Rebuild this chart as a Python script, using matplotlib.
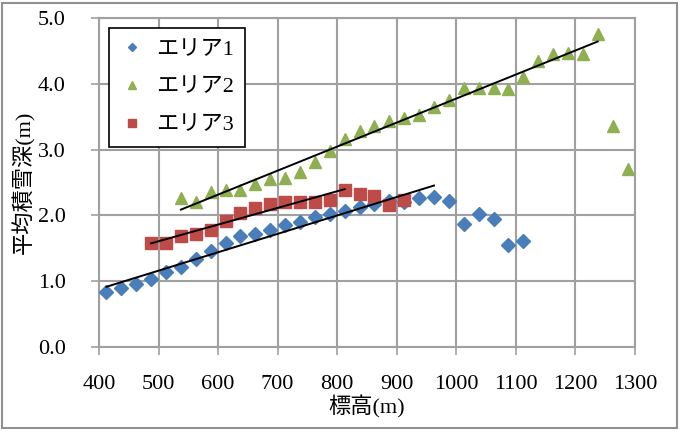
import numpy as np
import matplotlib
matplotlib.use('agg')
import matplotlib.pyplot as plt
from matplotlib.patches import Rectangle

# elevation bins (m) and mean snow depth (m)
area1_x = [412.5, 437.5, 462.5, 487.5, 512.5, 537.5, 562.5, 587.5, 612.5, 637.5,
           662.5, 687.5, 712.5, 737.5, 762.5, 787.5, 812.5, 837.5, 862.5, 887.5,
           912.5, 937.5, 962.5, 987.5, 1012.5, 1037.5, 1062.5, 1087.5, 1112.5]
area1_y = [0.84, 0.89, 0.96, 1.03, 1.14, 1.22, 1.34, 1.46, 1.58, 1.69,
           1.72, 1.78, 1.85, 1.90, 1.97, 2.02, 2.07, 2.13, 2.18, 2.22,
           2.21, 2.27, 2.28, 2.22, 1.87, 2.02, 1.94, 1.55, 1.61]

area2_x = [537.5, 562.5, 587.5, 612.5, 637.5, 662.5, 687.5, 712.5, 737.5, 762.5,
           787.5, 812.5, 837.5, 862.5, 887.5, 912.5, 937.5, 962.5, 987.5, 1012.5,
           1037.5, 1062.5, 1087.5, 1112.5, 1137.5, 1162.5, 1187.5, 1212.5, 1237.5,
           1262.5, 1287.5]
area2_y = [2.27, 2.21, 2.35, 2.38, 2.39, 2.48, 2.55, 2.57, 2.66, 2.81,
           2.98, 3.16, 3.29, 3.36, 3.43, 3.48, 3.52, 3.65, 3.75, 3.93,
           3.93, 3.94, 3.92, 4.11, 4.34, 4.45, 4.47, 4.46, 4.75,
           3.36, 2.70]

area3_x = [487.5, 512.5, 537.5, 562.5, 587.5, 612.5, 637.5, 662.5, 687.5, 712.5,
           737.5, 762.5, 787.5, 812.5, 837.5, 862.5, 887.5, 912.5]
area3_y = [1.58, 1.58, 1.68, 1.71, 1.78, 1.92, 2.04, 2.12, 2.18, 2.20,
           2.20, 2.21, 2.24, 2.38, 2.33, 2.30, 2.16, 2.24]

# upper elevation used for each linear trend
fit_max = {'area1': 962.5, 'area2': 1237.5, 'area3': 812.5}

labels = ['エリア1', 'エリア2', 'エリア3']
xticks = [400, 500, 600, 700, 800, 900, 1000, 1100, 1200, 1300]
yticks = [0.0, 1.0, 2.0, 3.0, 4.0, 5.0]

plt.rcParams['font.family'] = ['Liberation Serif', 'Noto Sans CJK JP']
plt.rcParams['font.size'] = 16

fig = plt.figure(figsize=(6.89, 4.42), dpi=100)
ax = fig.add_axes([0.1437, 0.2149, 0.9216 - 0.1437, 0.9593 - 0.2149])

grey = '#a0a0a0'
ax.plot(area1_x, area1_y, ls='none', marker='D', ms=7, color='#4a7ebb', label=labels[0], zorder=3)
ax.plot(area2_x, area2_y, ls='none', marker='^', ms=9, color='#8eb050', label=labels[1], zorder=3)
ax.plot(area3_x, area3_y, ls='none', marker='s', ms=9, color='#be4b48', label=labels[2], zorder=3)

# linear trends
for xs, ys, key in [(area1_x, area1_y, 'area1'), (area2_x, area2_y, 'area2'), (area3_x, area3_y, 'area3')]:
    xs = np.array(xs)
    ys = np.array(ys)
    m = xs <= fit_max[key]
    p = np.polyfit(xs[m], ys[m], 1)
    xx = np.array([xs[m][0], xs[m][-1]])
    ax.plot(xx, np.polyval(p, xx), color='k', lw=1.4, zorder=4)

ax.set_xlim(400, 1300)
ax.set_ylim(0, 5)
ax.set_xticks(xticks)
ax.set_yticks(yticks)
ax.set_yticklabels(['%.1f' % v for v in yticks])
ax.grid(True, color=grey, lw=1.5)
ax.set_axisbelow(True)
for s in ax.spines.values():
    s.set_color(grey)
    s.set_linewidth(1.5)
ax.tick_params(direction='out', length=6, width=1.2, color=grey, labelsize=16)
ax.tick_params(axis='x', pad=14)
ax.tick_params(axis='y', pad=18)

ax.set_xlabel('標高(m)', fontsize=16, labelpad=1)
ax.set_ylabel('平均積雪深(m)', fontsize=16, labelpad=2)

leg = ax.legend(loc='upper left', bbox_to_anchor=(0.0, 1.0), borderaxespad=0.45, markerscale=0.6,
                fancybox=False, framealpha=1, edgecolor='k', handletextpad=0.5,
                handlelength=1.1, borderpad=0.5, labelspacing=0.78, fontsize=16)
leg.get_frame().set_linewidth(1.2)

# outer chart frame
fig.patches.append(Rectangle((0.003, 0.032), 0.98, 0.962, transform=fig.transFigure,
                             fill=False, edgecolor='#909090', lw=1.5))

fig.savefig('out.png', dpi=100)
